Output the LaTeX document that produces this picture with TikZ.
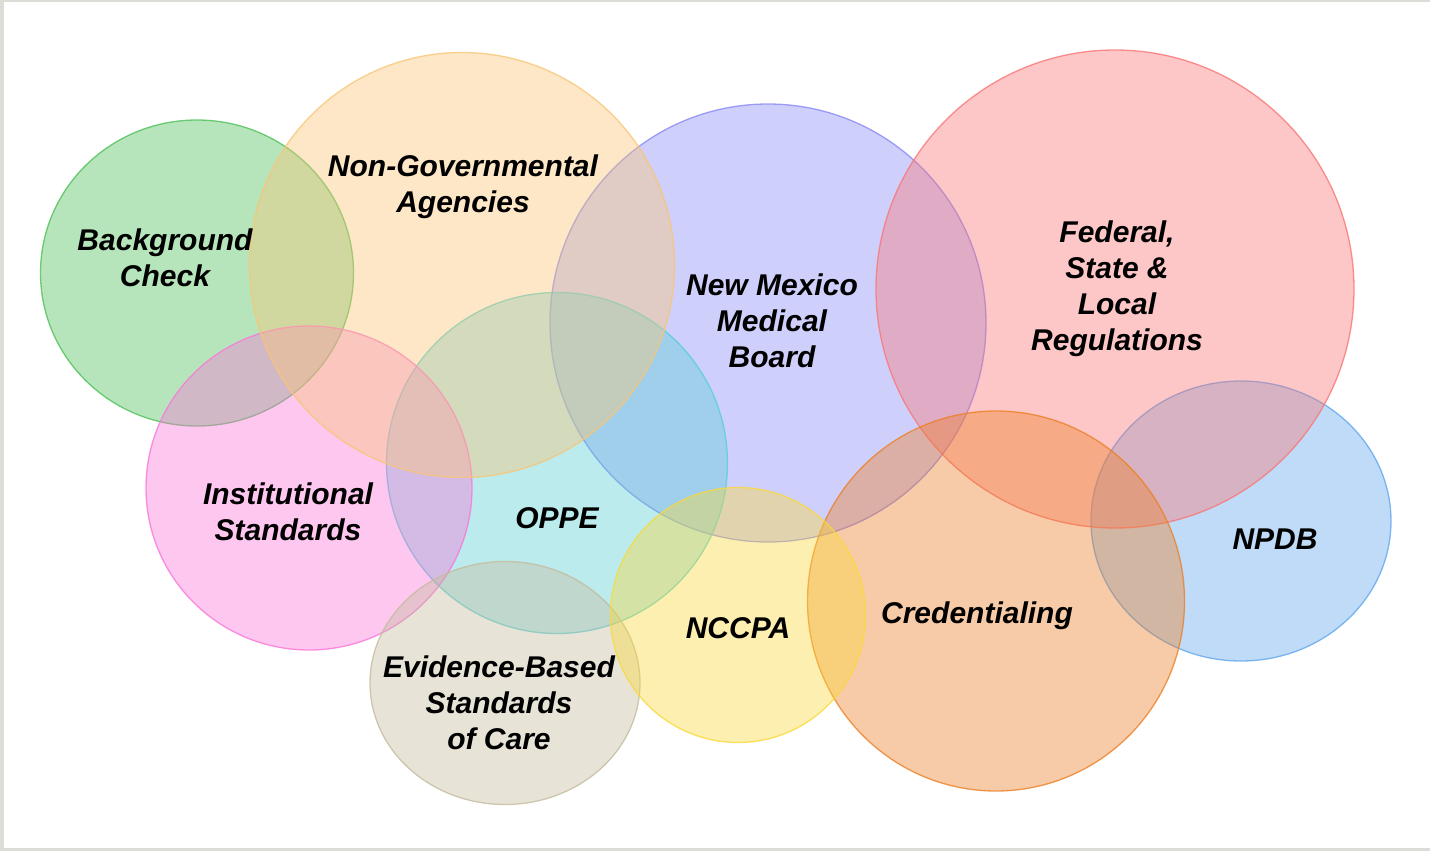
\documentclass[tikz,border=0pt]{standalone}
\usepackage{fontspec}
\setmainfont{Liberation Sans}
\usetikzlibrary{shapes.geometric}

% base colours of the circles (shown translucent)
\definecolor{frameGray}{RGB}{222,220,214}
\definecolor{cGreen}{RGB}{77,192,87}
\definecolor{cPeach}{RGB}{250,197,117}
\definecolor{cLav}{RGB}{135,137,247}
\definecolor{cRed}{RGB}{250,117,117}
\definecolor{cPink}{RGB}{250,117,217}
\definecolor{cCyan}{RGB}{87,207,212}
\definecolor{cBeige}{RGB}{197,187,157}
\definecolor{cYellow}{RGB}{250,217,57}
\definecolor{cOrange}{RGB}{237,127,37}
\definecolor{cBlue}{RGB}{97,167,237}

\tikzset{
  venn/.style={ellipse, inner sep=0pt, outer sep=0pt, fill=#1, draw=#1,
    fill opacity=0.4, draw opacity=0.8, line width=1.3pt},
  lbl/.style={font=\fontsize{30}{36}\selectfont\bfseries\itshape,
    align=center, text=black, inner sep=0pt},
}

\begin{document}
\begin{tikzpicture}[x=1pt,y=-1pt]
% page with thin grey edge
\fill[frameGray] (0,0) rectangle (1430,851);
\fill[white] (4,2) rectangle (1430,848);

% circles, back to front
\node[venn=cLav,    minimum width=436pt, minimum height=438pt] (nmmb) at (768,323) {};
\node[venn=cBlue,   minimum width=300pt, minimum height=280pt] (npdb) at (1241,521) {};
\node[venn=cRed,    minimum width=478pt, minimum height=478pt] (fed)  at (1115,289) {};
\node[venn=cOrange, minimum width=377pt, minimum height=380pt] (cred) at (996,601) {};
\node[venn=cCyan,   minimum width=341pt, minimum height=341pt] (oppe) at (557,463) {};
\node[venn=cGreen,  minimum width=313pt, minimum height=306pt] (bgc)  at (197,273) {};
\node[venn=cPink,   minimum width=326pt, minimum height=324pt] (inst) at (309,488) {};
\node[venn=cBeige,  minimum width=270pt, minimum height=243pt] (evid) at (505,683) {};
\node[venn=cYellow, minimum width=255pt, minimum height=255pt] (nccpa) at (738,615) {};
\node[venn=cPeach,  minimum width=425pt, minimum height=425pt] (nga)  at (462,265) {};

% labels
\node[lbl] (bgcT)   at (165,257.5) {Background\\Check};
\node[lbl] (ngaT)   at (463,187)   {Non-Governmental\\Agencies};
\node[lbl] (nmmbT)  at (772,321)   {New Mexico\\Medical\\Board};
\node[lbl] (fedT)   at (1117,289)  {Federal,\\State \&\\Local\\Regulations};
\node[lbl] (instT)  at (288,512)   {Institutional\\Standards};
\node[lbl] (oppeT)  at (557,518)   {OPPE};
\node[lbl] (evidT)  at (499,703)   {Evidence-Based\\Standards\\of Care};
\node[lbl] (nccpaT) at (738,628)   {NCCPA};
\node[lbl] (credT)  at (977,616)   {Credentialing};
\node[lbl] (npdbT)  at (1275,539)  {NPDB};
\end{tikzpicture}
\end{document}
